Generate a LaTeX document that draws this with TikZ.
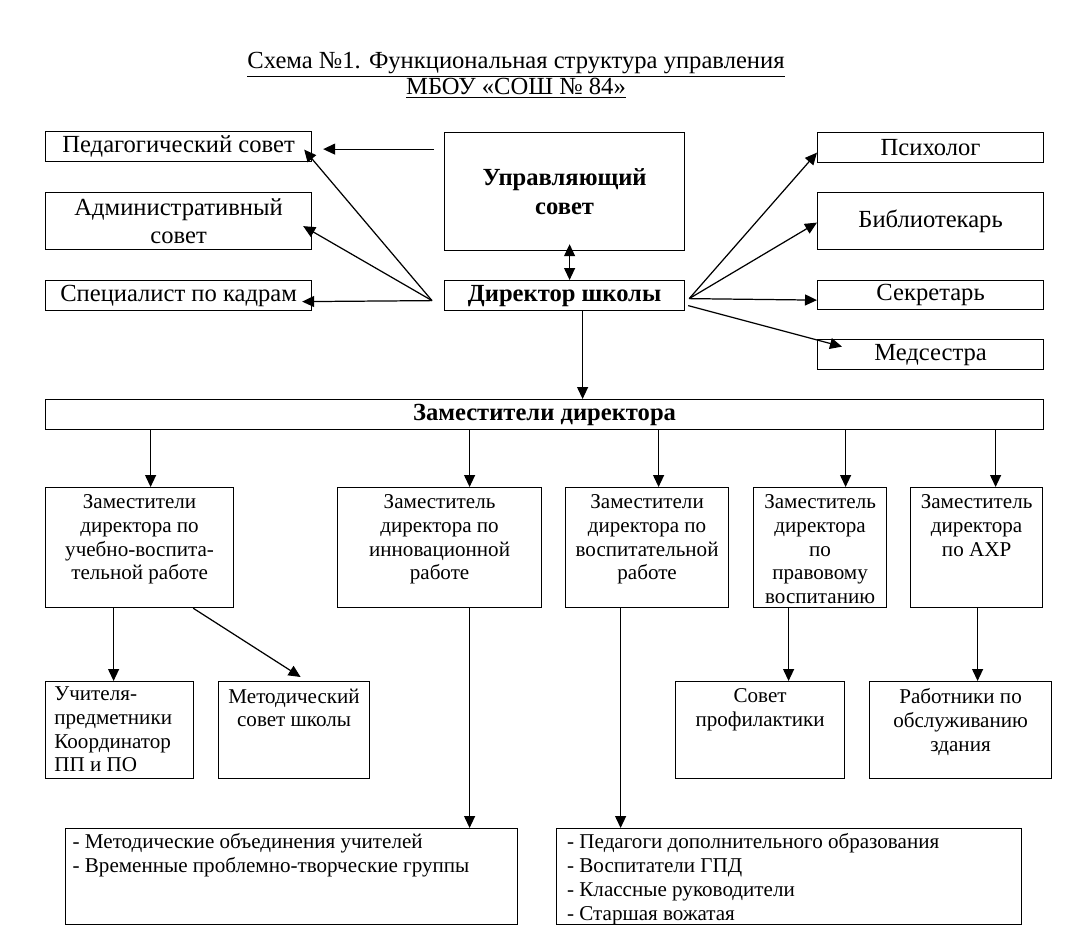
\documentclass[tikz,border=0pt]{standalone}
\usepackage{fontspec}
\setmainfont{Liberation Serif}
\usepackage{tikz}
\usetikzlibrary{arrows.meta,positioning}
\tikzstyle{box} = [rectangle, draw=black, line width=0.7pt, inner sep=0pt, anchor=north west, align=center, font=\fontsize{14}{16}\selectfont]
\tikzstyle{subbox} = [rectangle, draw=black, line width=0.7pt, inner sep=0pt, anchor=north west, font=\fontsize{12}{13.5}\selectfont]
\tikzstyle{arrow} = [line width=0.7pt, -{Triangle[length=0.24cm,width=0.22cm]}]
\tikzstyle{dblarrow} = [line width=0.7pt, {Triangle[length=0.24cm,width=0.22cm]}-{Triangle[length=0.24cm,width=0.22cm]}]
\newcommand{\topc}[3]{\parbox[c][#2][t]{#1}{\centering\vspace*{4pt}#3}}
\newcommand{\topl}[4]{\parbox[c][#2][t]{#1}{\raggedright\leftskip=#3\vspace*{3pt}#4}}

\begin{document}
\begin{tikzpicture}[x=0.02cm, y=-0.02cm]
    \useasboundingbox (0,0) rectangle (1083,947);
    % title
    \node (title) at (516,75) [align=center, font=\fontsize{14}{15}\selectfont] {\underline{Схема №1. Функциональная структура управления}\\ \underline{МБОУ «СОШ № 84»}};
    % top level
    \node (ped) at (45,131) [box, minimum width=5.32cm, minimum height=0.6cm] {Педагогический совет};
    \node (adm) at (45,192) [box, minimum width=5.32cm, minimum height=1.14cm] {Административный\\совет};
    \node (spec) at (45,280) [box, minimum width=5.32cm, minimum height=0.6cm] {Специалист по кадрам};
    \node (upr) at (444,132) [box, minimum width=4.8cm, minimum height=2.36cm] {\textbf{Управляющий}\\\textbf{совет}};
    \node (dir) at (444,280) [box, minimum width=4.8cm, minimum height=0.6cm] {\textbf{Директор школы}};
    \node (psy) at (817,132) [box, minimum width=4.52cm, minimum height=0.6cm] {Психолог};
    \node (lib) at (817,192) [box, minimum width=4.52cm, minimum height=1.14cm] {Библиотекарь};
    \node (sec) at (817,280) [box, minimum width=4.52cm, minimum height=0.58cm] {Секретарь};
    \node (med) at (817,339) [box, minimum width=4.52cm, minimum height=0.6cm] {Медсестра};
    \node (zam) at (45,399) [box, minimum width=19.96cm, minimum height=0.6cm] {\textbf{Заместители директора}};
    % deputies
    \node (zA) at (45,487) [subbox] {\topc{3.76cm}{2.4cm}{Заместители\\директора по\\учебно-воспита-\\тельной работе}};
    \node (zB) at (337,487) [subbox] {\topc{4.08cm}{2.4cm}{Заместитель\\директора по\\инновационной\\работе}};
    \node (zC) at (565,487) [subbox] {\topc{3.26cm}{2.4cm}{Заместители\\директора по\\воспитательной\\работе}};
    \node (zD) at (753,487) [subbox] {\topc{2.66cm}{2.4cm}{Заместитель\\директора\\по\\правовому\\воспитанию}};
    \node (zE) at (910,487) [subbox] {\topc{2.64cm}{2.4cm}{Заместитель\\директора\\по АХР}};
    % lower level
    \node (uch) at (45,681) [subbox] {\topl{2.96cm}{1.94cm}{5pt}{Учителя-\\предметники\\Координатор\\ПП и ПО}};
    \node (met) at (218,681) [subbox] {\topc{3.02cm}{1.94cm}{Методический\\совет школы}};
    \node (prof) at (675,681) [subbox] {\topc{3.38cm}{1.94cm}{Совет\\профилактики}};
    \node (rab) at (869,681) [subbox] {\topc{3.64cm}{1.94cm}{Работники по\\обслуживанию\\здания}};
    \node (listL) at (65,828) [subbox] {\topl{9.04cm}{1.92cm}{4pt}{- Методические объединения учителей\\- Временные проблемно-творческие группы}};
    \node (listR) at (556,828) [subbox] {\topl{9.3cm}{1.92cm}{6pt}{- Педагоги дополнительного образования\\- Воспитатели ГПД\\- Классные руководители\\- Старшая вожатая}};
    % connectors
    \coordinate (dL) at ([xshift=-0.24cm,yshift=-0.1cm]dir.west);
    \coordinate (dR) at ([xshift=0.08cm,yshift=-0.06cm]dir.east);
    \coordinate (dR2) at ([xshift=0.06cm,yshift=-0.2cm]dir.east);
    \draw [arrow] ([xshift=-0.2cm,yshift=-0.05cm]upr.west |- ped.east) -- ([xshift=0.22cm,yshift=-0.05cm]ped.east);
    \draw [arrow] (dL) -- ([xshift=-0.16cm,yshift=-0.06cm]ped.east);
    \draw [arrow] (dL) -- ([xshift=-0.18cm,yshift=-0.1cm]adm.east);
    \draw [arrow] (dL) -- ([xshift=-0.2cm,yshift=-0.12cm]spec.east);
    \draw [arrow] (dR) -- ([yshift=-0.1cm]psy.west);
    \draw [arrow] (dR) -- ([yshift=-0.03cm]lib.west);
    \draw [arrow] (dR) -- ([yshift=-0.1cm]sec.west);
    \draw [arrow] (dR2) -- ([xshift=0.5cm,yshift=0.16cm]med.west);
    \draw [dblarrow] ([xshift=0.1cm,yshift=0.14cm]upr.south) -- ([xshift=0.1cm]dir.north);
    \draw [arrow] ([xshift=0.36cm]dir.south) -- ([xshift=0.36cm]dir.south |- zam.north);
    \draw [arrow] ([xshift=0.22cm]zA.north |- zam.south) -- ([xshift=0.22cm]zA.north);
    \draw [arrow] ([xshift=0.6cm]zB.north |- zam.south) -- ([xshift=0.6cm]zB.north);
    \draw [arrow] ([xshift=0.23cm]zC.north |- zam.south) -- ([xshift=0.23cm]zC.north);
    \draw [arrow] ([xshift=0.51cm]zD.north |- zam.south) -- ([xshift=0.51cm]zD.north);
    \draw [arrow] ([xshift=0.38cm]zE.north |- zam.south) -- ([xshift=0.38cm]zE.north);
    \draw [arrow] ([xshift=-0.12cm]uch.north |- zA.south) -- ([xshift=-0.12cm]uch.north);
    \draw [arrow] ([xshift=-0.82cm]zA.south east) -- ([xshift=0.13cm,yshift=0.08cm]met.north);
    \draw [arrow] ([xshift=0.6cm]zB.south) -- ([xshift=0.6cm]zB.south |- listL.north);
    \draw [arrow] ([xshift=-0.53cm]zC.south) -- ([xshift=-0.53cm]zC.south |- listR.north);
    \draw [arrow] ([xshift=0.57cm]prof.north |- zD.south) -- ([xshift=0.57cm]prof.north);
    \draw [arrow] ([xshift=0.34cm]rab.north |- zE.south) -- ([xshift=0.34cm]rab.north);
\end{tikzpicture}
\end{document}
